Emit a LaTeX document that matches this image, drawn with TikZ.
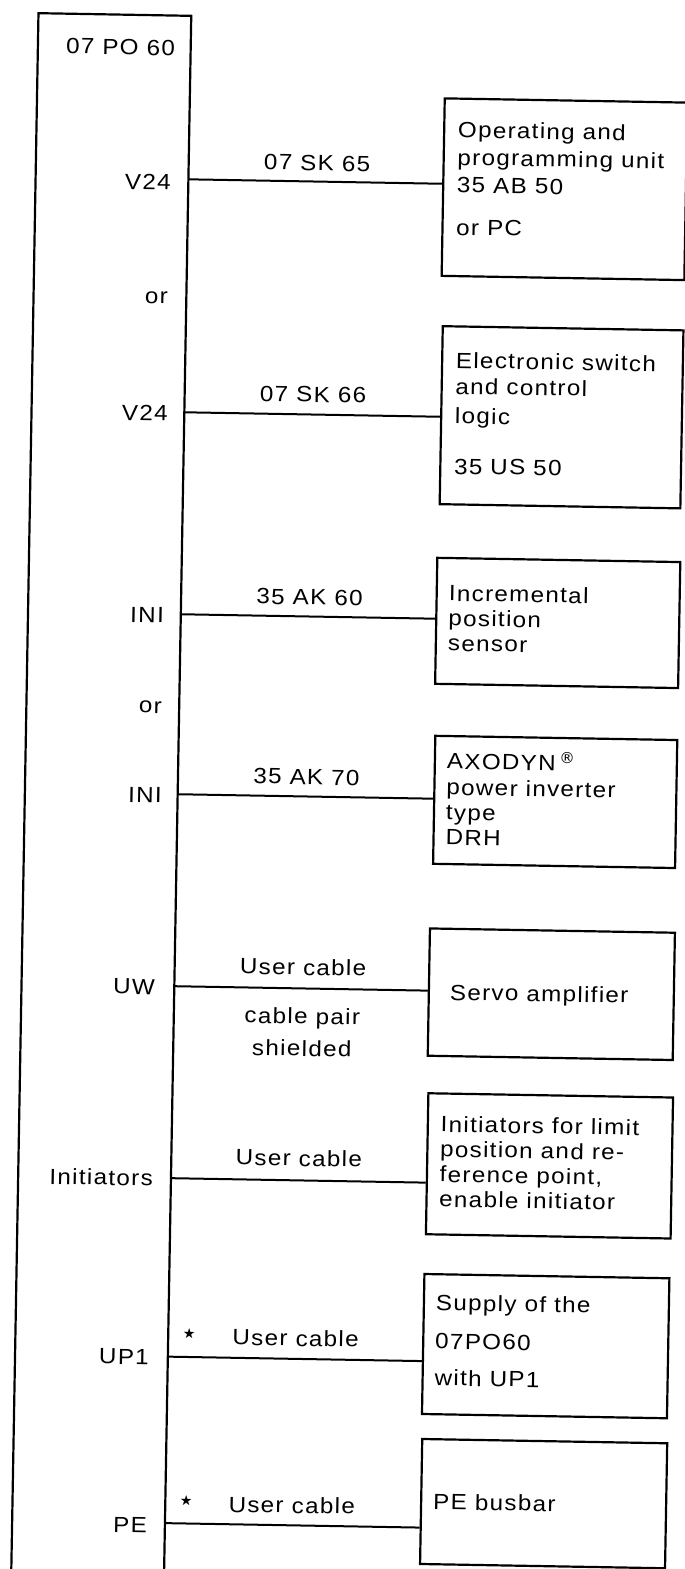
\documentclass[tikz,border=0pt]{standalone}
\usepackage{fontspec}
\setmainfont{Liberation Sans}[LetterSpace=6,FakeStretch=1.1]
\newfontfamily\symfont{DejaVu Sans}
\begin{document}
\begin{tikzpicture}[x=1pt,y=-1pt,
  frame/.style={line width=2.2pt,line cap=round},
  wire/.style={line width=2pt},
  box/.style={draw,line width=2.2pt,anchor=north west,inner sep=0pt},
  txt/.style={font=\fontsize{22}{25}\selectfont,inner sep=0pt},
  lbl/.style={txt,anchor=east},
  cab/.style={txt,anchor=center},
  btx/.style={txt,anchor=base west},
  star/.style={inner sep=0pt,anchor=center,font=\symfont\fontsize{14}{15}\selectfont}]
\clip (0,0) rectangle (685,1569);
\fill[white] (0,0) rectangle (685,1569);
\begin{scope}[rotate=-1,transform shape]
% main module frame
\draw[frame] (38.7,1600) -- (38.7,12.5) -- (191.5,12.5) -- (191.5,1600);
\node[lbl] (title) at (176,44.9) {07 PO 60};
% connection points on the frame
\coordinate (p1) at (191.5,176);
\coordinate (p2) at (191.5,409);
\coordinate (p3) at (191.5,611);
\coordinate (p4) at (191.5,791);
\coordinate (p5) at (191.5,983);
\coordinate (p6) at (191.5,1175);
\coordinate (p7) at (191.5,1353.5);
\coordinate (p8) at (191.5,1520);
% port labels
\node[lbl] (l1) at (174,179.4) {V24};
\node[lbl] (or1) at (173.2,295) {or};
\node[lbl] (l2) at (175.2,410.4) {V24};
\node[lbl] (l3) at (174.8,612.4) {INI};
\node[lbl] (or2) at (174.4,704.4) {or};
\node[lbl] (l4) at (175.9,792.4) {INI};
\node[lbl] (l5) at (172.3,984.3) {UW};
\node[lbl] (l6) at (173.6,1175.3) {Initiators};
\node[lbl] (l7) at (172.7,1354.4) {UP1};
\node[lbl] (l8) at (173.7,1522.7) {PE};
% boxes
\node[box,minimum width=242.7pt,minimum height=177.5pt] (b1) at (445.3,89.5) {};
\node[box,minimum width=240.7pt,minimum height=178pt] (b2) at (447.3,317.3) {};
\node[box,minimum width=243pt,minimum height=126pt] (b3) at (445.9,549) {};
\node[box,minimum width=242pt,minimum height=128pt] (b4) at (447,727) {};
\node[box,minimum width=245pt,minimum height=127.3pt] (b5) at (445,919.7) {};
\node[box,minimum width=244.7pt,minimum height=141pt] (b6) at (446.3,1084.5) {};
\node[box,minimum width=245pt,minimum height=140pt] (b7) at (445.5,1265.3) {};
\node[box,minimum width=245pt,minimum height=125pt] (b8) at (446.2,1430.3) {};
% box texts
\node[btx] (b1a) at (460,129.5) {Operating and};
\node[btx] (b1b) at (460,157) {programming unit};
\node[btx] (b1c) at (460,184.5) {35 AB 50};
\node[btx] (b1d) at (460,227) {or PC};
\node[btx] (b2a) at (462,360) {Electronic switch};
\node[btx] (b2b) at (462,386) {and control};
\node[btx] (b2c) at (462,415.5) {logic};
\node[btx] (b2d) at (462,466) {35 US 50};
\node[btx] (b3a) at (459,593) {Incremental};
\node[btx] (b3b) at (459,618) {position};
\node[btx] (b3c) at (459,643) {sensor};
\node[btx] (b4a) at (460,761) {AXODYN\,\textsuperscript{\symfont ®}};
\node[btx] (b4b) at (460,787) {power inverter};
\node[btx] (b4c) at (460,812) {type};
\node[btx] (b4d) at (460,837) {DRH};
\node[btx] (b5a) at (467,992) {Servo amplifier};
\node[btx] (b6a) at (460,1124) {Initiators for limit};
\node[btx] (b6b) at (460,1149) {position and re-};
\node[btx] (b6c) at (460,1174) {ference point,};
\node[btx] (b6d) at (460,1199) {enable initiator};
\node[btx] (b7a) at (458.5,1302.6) {Supply of the};
\node[btx] (b7b) at (458.5,1341) {07PO60};
\node[btx] (b7c) at (458.5,1377.6) {with UP1};
\node[btx] (b8a) at (459.3,1501.6) {PE busbar};
% connectors
\draw[wire] (p1) -- (p1 -| b1.west);
\draw[wire] (p2) -- (p2 -| b2.west);
\draw[wire] (p3) -- (p3 -| b3.west);
\draw[wire] (p4) -- (p4 -| b4.west);
\draw[wire] (p5) -- (p5 -| b5.west);
\draw[wire] (p6) -- (p6 -| b6.west);
\draw[wire] (p7) -- (p7 -| b7.west);
\draw[wire] (p8) -- (p8 -| b8.west);
% cable labels
\node[cab] (c1) at (320,157.5) {07 SK 65};
\node[cab] (c2) at (320,389) {07 SK 66};
\node[cab] (c3) at (320,591.6) {35 AK 60};
\node[cab] (c4) at (320,771.6) {35 AK 70};
\node[cab] (c5) at (320,961.7) {User cable};
\node[cab] (c5b) at (320,1012.7) {cable pair};
\node[cab] (c5c) at (320,1042.7) {shielded};
\node[cab] (c6) at (319,1152.8) {User cable};
\node[cab] (c7) at (319,1332.8) {User cable};
\node[star] (s7) at (212.4,1330) {★};
\node[cab] (c8) at (318,1499.9) {User cable};
\node[star] (s8) at (212.3,1497.5) {★};
\end{scope}
\end{tikzpicture}
\end{document}
